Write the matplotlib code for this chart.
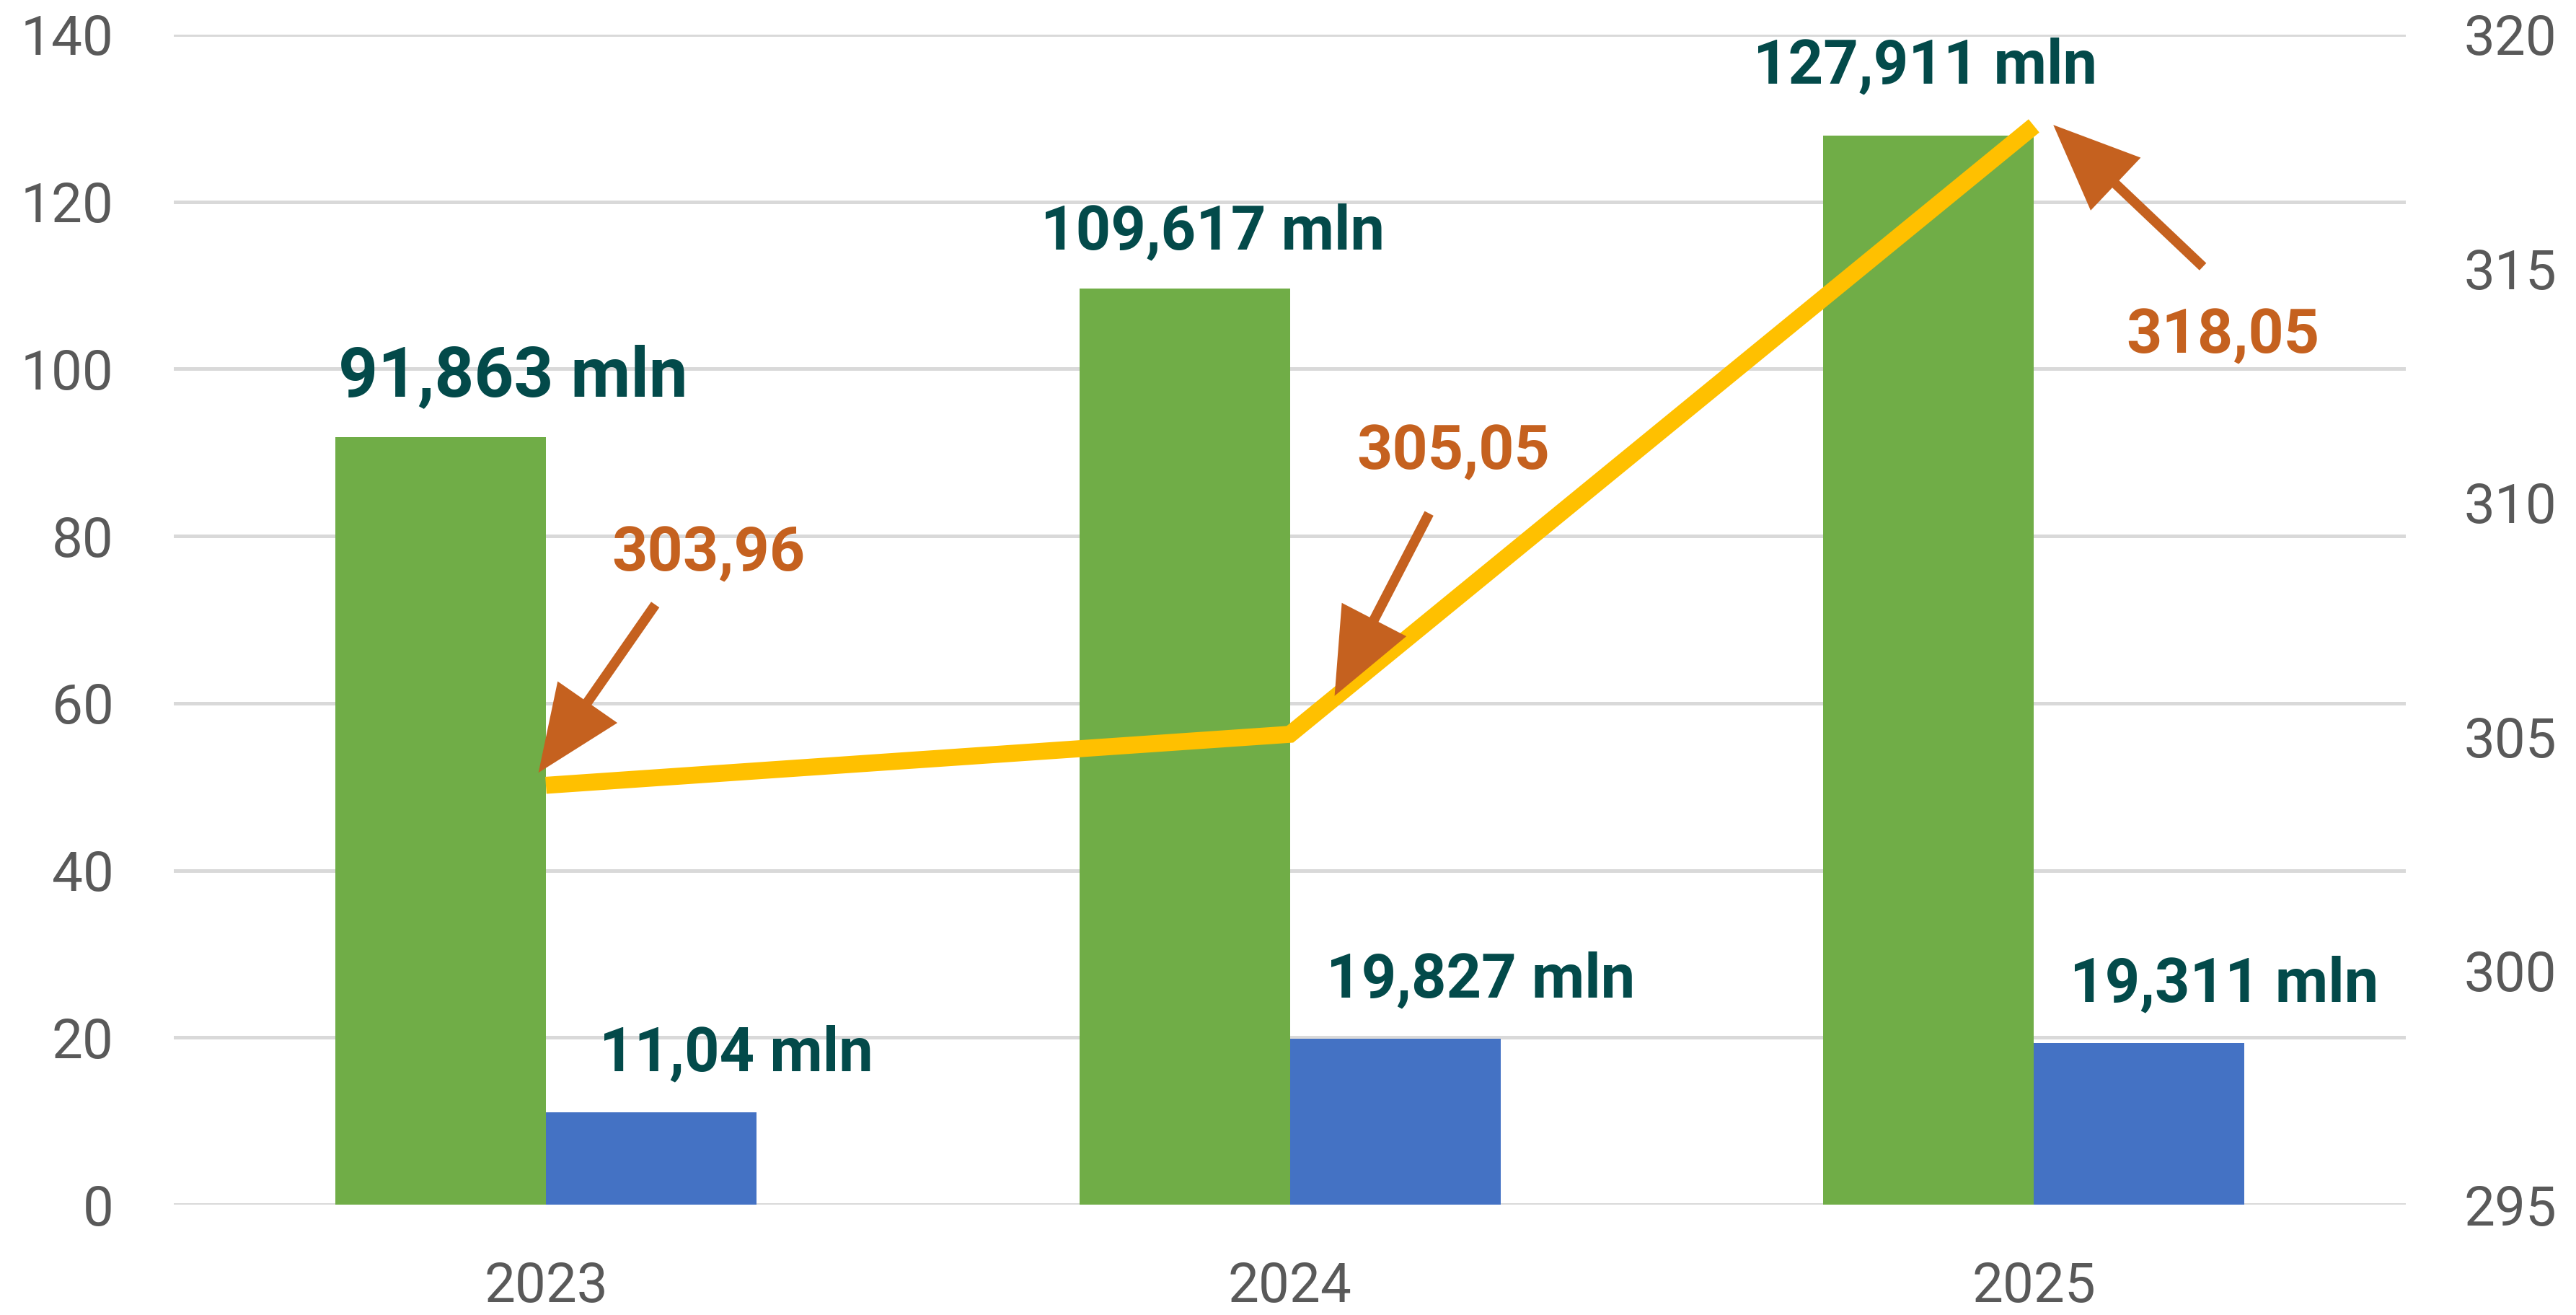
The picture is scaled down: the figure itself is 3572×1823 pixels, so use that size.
import numpy as np
import matplotlib.pyplot as plt

plt.rcParams['font.family'] = ['Roboto', 'DejaVu Sans']

# data
years = ['2023', '2024', '2025']
green_vals = [91.863, 109.617, 127.911]
blue_vals = [11.04, 19.827, 19.311]
line_vals = [303.96, 305.05, 318.05]
green_labels = ['91,863 mln', '109,617 mln', '127,911 mln']
blue_labels = ['11,04 mln', '19,827 mln', '19,311 mln']
line_labels = ['303,96', '305,05', '318,05']

# colours
GREEN = '#70AD47'
BLUE = '#4472C4'
YELLOW = '#FFC000'
ORANGE = '#C5611F'
TEAL = '#034A4A'
TICK = '#595959'
GRID = '#D9D9D9'

# label layout (offsets from the category / value)
green_dx = [-0.044, -0.104, -0.146]
green_dy = [7.1, 6.7, 8.3]
green_size = [69, 61, 61]
blue_dx = 0.256
blue_dy = 7.0
line_txt_dx = [0.218, 0.22, 0.254]
line_txt_dy = [4.94, 6.03, -4.5]
arr_tail = [(0.147, 3.86), (0.187, 4.72), (0.227, -3.01)]
arr_tip = [(-0.01, 0.27), (0.06, 0.82), (0.026, 0.02)]

x = np.arange(len(years))
w = 0.283

fig = plt.figure(figsize=(35.72, 18.23), dpi=100)
ax = fig.add_axes([0.0675, 0.0839, 0.8665, 0.8898])

ax.bar(x - w / 2, green_vals, w, color=GREEN, zorder=2)
ax.bar(x + w / 2, blue_vals, w, color=BLUE, zorder=2)

ax.set_xlim(-0.5, 2.5)
ax.set_ylim(0, 140)
ax.set_yticks(np.arange(0, 141, 20))
ax.set_xticks(x)
ax.set_xticklabels(years)
ax.yaxis.grid(True, color=GRID, lw=3.6, zorder=0)
ax.set_axisbelow(True)
for s in ax.spines.values():
    s.set_visible(False)
ax.tick_params(axis='y', length=0, pad=60, labelsize=55, labelcolor=TICK)
ax.tick_params(axis='x', length=0, pad=56, labelsize=55, labelcolor=TICK)

for i in range(len(years)):
    ax.text(i + green_dx[i], green_vals[i] + green_dy[i], green_labels[i],
            ha='center', va='center', fontsize=green_size[i],
            fontweight='bold', color=TEAL, zorder=5)
    ax.text(i + blue_dx, blue_vals[i] + blue_dy, blue_labels[i],
            ha='center', va='center', fontsize=61,
            fontweight='bold', color=TEAL, zorder=5)

ax2 = ax.twinx()
ax2.set_ylim(295, 320)
ax2.set_yticks(np.arange(295, 321, 5))
for s in ax2.spines.values():
    s.set_visible(False)
ax2.tick_params(axis='y', length=0, pad=58, labelsize=55, labelcolor=TICK)

ax2.plot(x, line_vals, color=YELLOW, lw=17, solid_capstyle='butt',
         solid_joinstyle='miter', zorder=3)

for i in range(len(years)):
    ax2.text(i + line_txt_dx[i], line_vals[i] + line_txt_dy[i], line_labels[i],
             ha='center', va='center', fontsize=62, fontweight='bold',
             color=ORANGE, zorder=5)
    tx, ty = arr_tail[i]
    hx, hy = arr_tip[i]
    ax2.annotate('', xy=(i + hx, line_vals[i] + hy),
                 xytext=(i + tx, line_vals[i] + ty),
                 arrowprops=dict(arrowstyle='simple,head_length=1.3,head_width=1.1,tail_width=0.15',
                                 mutation_scale=66, color=ORANGE, lw=0,
                                 shrinkA=0, shrinkB=0),
                 zorder=6)

fig.savefig('out.png', dpi=100)
